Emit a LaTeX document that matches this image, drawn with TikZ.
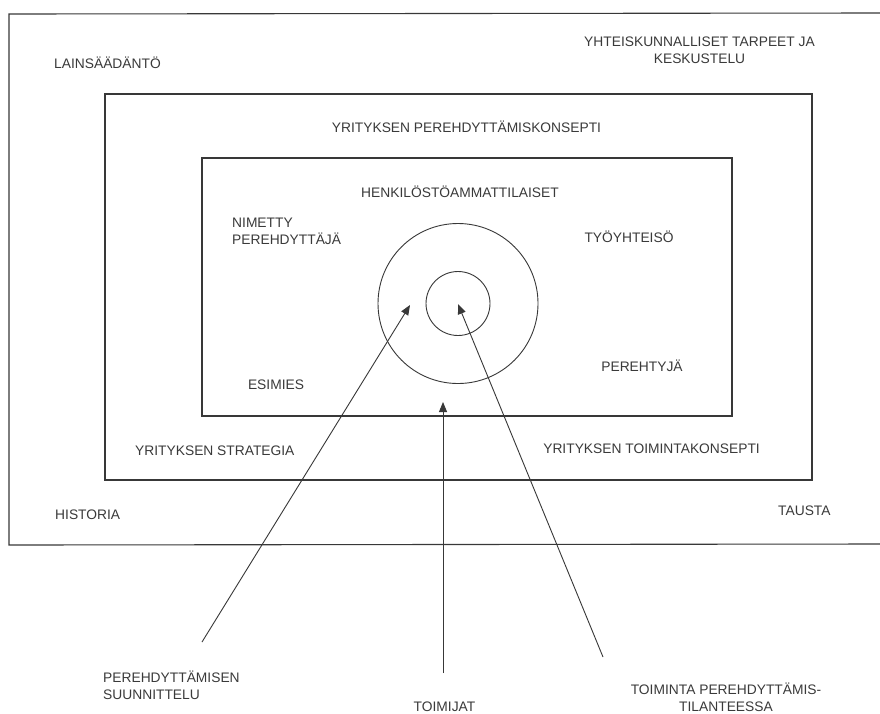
\documentclass[tikz,border=0pt]{standalone}
\usepackage{fontspec}
\setmainfont{Liberation Sans}
\usetikzlibrary{arrows.meta}
\definecolor{ink}{HTML}{383838}
\definecolor{txt}{HTML}{3A3A3A}
\tikzset{
  frame/.style={draw=ink, line width=1.1pt},
  ring/.style={draw=ink, line width=0.9pt},
  lbl/.style={inner sep=0pt, text=txt, font=\fontsize{13.8}{17}\selectfont},
  pointer/.style={draw=ink, line width=0.9pt, -{Triangle[length=10pt,width=8pt]}},
}
\begin{document}
\begin{tikzpicture}[x=1pt,y=-1pt]
\useasboundingbox (0,0) rectangle (880,713);
\fill[white] (0,0) rectangle (880,713);
% frames (outer one runs off the right edge)
\draw[frame] (881,13) -- (9,14) -- (9,545) -- (881,544);
\draw[frame] (105,94) rectangle (812,480);
\draw[frame] (202,158) rectangle (732,416);
% circles
\node[ring, circle, minimum size=160pt, inner sep=0pt] (outerc) at (458,303.5) {};
\node[ring, circle, minimum size=64pt, inner sep=0pt] (innerc) at (458,303.5) {};
% labels
\node[lbl, anchor=base west] (laki) at (54,68) {LAINSÄÄDÄNTÖ};
\node[lbl, anchor=base, align=center] (yht) at (699.5,63) {YHTEISKUNNALLISET TARPEET JA\\KESKUSTELU};
\node[lbl, anchor=base] (perek) at (466.5,132) {YRITYKSEN PEREHDYTTÄMISKONSEPTI};
\node[lbl, anchor=base] (henk) at (460,197) {HENKILÖSTÖAMMATTILAISET};
\node[lbl, anchor=base west, align=left] (nim) at (232,244) {NIMETTY\\PEREHDYTTÄJÄ};
\node[lbl, anchor=base] (tyo) at (629,242) {TYÖYHTEISÖ};
\node[lbl, anchor=base] (pty) at (642,371) {PEREHTYJÄ};
\node[lbl, anchor=base] (esi) at (276,389) {ESIMIES};
\node[lbl, anchor=base west] (strat) at (135,455) {YRITYKSEN STRATEGIA};
\node[lbl, anchor=base east] (toimk) at (760,453) {YRITYKSEN TOIMINTAKONSEPTI};
\node[lbl, anchor=base west] (hist) at (55,519) {HISTORIA};
\node[lbl, anchor=base west] (taus) at (778,515) {TAUSTA};
\node[lbl, anchor=base west, align=left] (suun) at (103,699) {PEREHDYTTÄMISEN\\SUUNNITTELU};
\node[lbl, anchor=base] (toimij) at (444.5,711) {TOIMIJAT};
\node[lbl, anchor=base, align=center] (toimt) at (726,711) {TOIMINTA PEREHDYTTÄMIS-\\TILANTEESSA};
% arrow ends
\coordinate (a1s) at (202,642);
\coordinate (a1e) at (410,305);
\coordinate (a2s) at (443,673);
\coordinate (a2e) at (443,402);
\coordinate (a3s) at (603,657);
\coordinate (a3e) at (458,304);
\draw[pointer] (a1s) -- (a1e);
\draw[pointer] (a2s) -- (a2e);
\draw[pointer] (a3s) -- (a3e);
\end{tikzpicture}
\end{document}
